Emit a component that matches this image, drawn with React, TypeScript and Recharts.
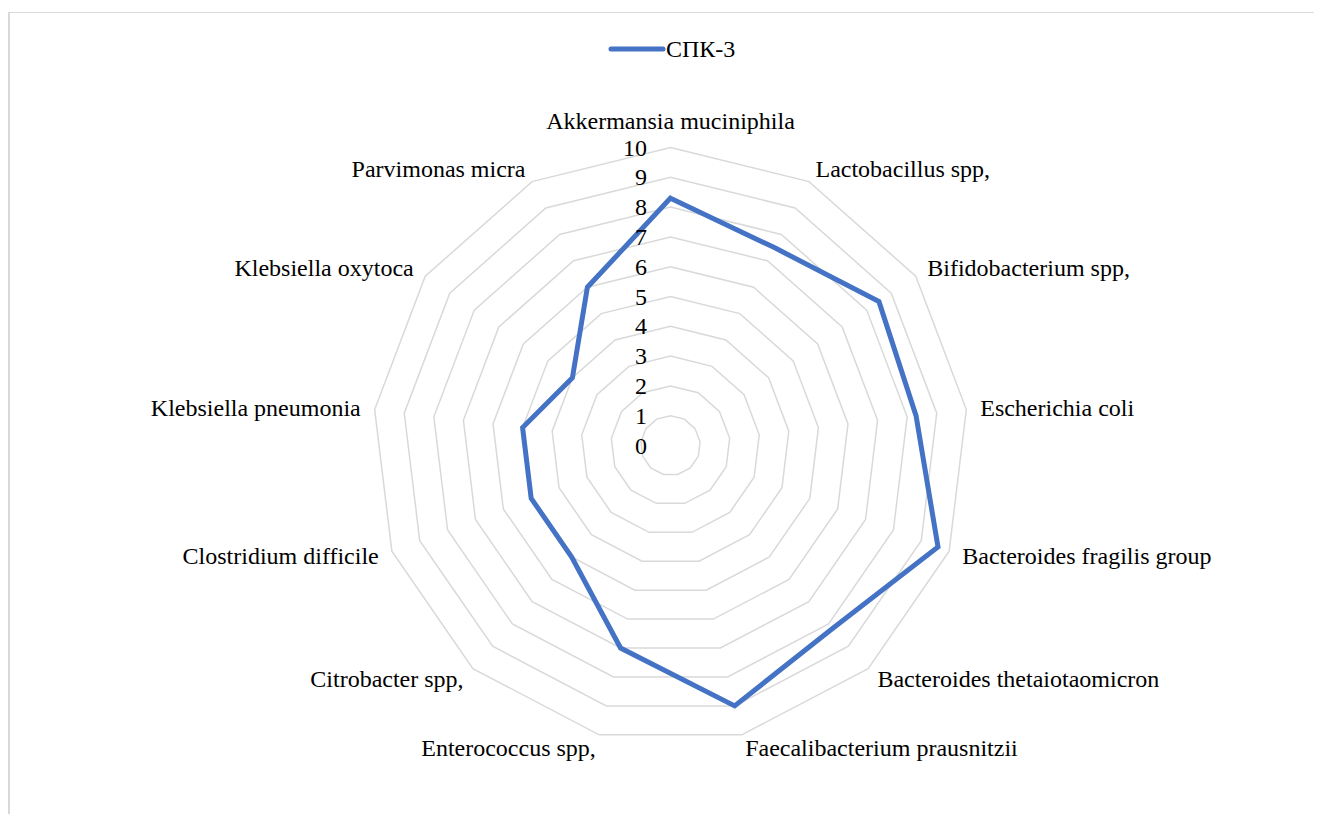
import { RadarChart, Radar, PolarGrid, PolarAngleAxis, PolarRadiusAxis, Legend } from "recharts";

const categories = [
  "Akkermansia muciniphila",
  "Lactobacillus spp,",
  "Bifidobacterium spp,",
  "Escherichia coli",
  "Bacteroides fragilis group",
  "Bacteroides thetaiotaomicron",
  "Faecalibacterium prausnitzii",
  "Enterococcus spp,",
  "Citrobacter spp,",
  "Clostridium difficile",
  "Klebsiella pneumonia",
  "Klebsiella oxytoca",
  "Parvimonas micra",
];
const spk3 = [8.3, 7.5, 8.5, 8.3, 9.6, 8.2, 9, 7, 5, 5, 5, 4, 6];
const radiusTicks = [0, 1, 2, 3, 4, 5, 6, 7, 8, 9, 10];
const seriesName = "СПК-3";

const data = categories.map((name, i) => ({ name, value: spk3[i] }));

const W = 1310;
const H = 800;
const CX = 660.5;
const CY = 432.5;
const R = 298;
const FONT = "Liberation Serif, Times New Roman, serif";
const BLUE = "#4472C4";

function AngleTick(props: any) {
  const { payload } = props;
  const rad = (payload.coordinate * Math.PI) / 180;
  const sx = Math.cos(rad);
  const sy = Math.sin(rad);
  const r = R + 14;
  const x = CX + r * sx;
  let y = CY - r * sy;
  let anchor: "start" | "end" | "middle" = "middle";
  if (sx > 0.05) anchor = "start";
  else if (sx < -0.05) anchor = "end";
  else y -= sy > 0 ? 13 : -13;
  return (
    <text x={x} y={y} textAnchor={anchor} dominantBaseline="central" fontSize={24} style={{ fontFamily: FONT }} fill="#000">
      {payload.value}
    </text>
  );
}

function RadiusTick(props: any) {
  const { x, y, payload } = props;
  return (
    <text x={x - 23.5} y={y} textAnchor="end" dominantBaseline="central" fontSize={24} style={{ fontFamily: FONT }} fill="#000">
      {payload.value}
    </text>
  );
}

function LegendBox() {
  return (
    <svg width={160} height={30}>
      <line x1={3} x2={55} y1={15} y2={15} stroke={BLUE} strokeWidth={5} strokeLinecap="round" />
      <text x={58} y={15} dominantBaseline="central" fontSize={24} style={{ fontFamily: FONT }} fill="#000">
        {seriesName}
      </text>
    </svg>
  );
}

export default function App() {
  return (
    <div
      style={{
        position: "relative",
        width: 1330,
        height: 820,
        marginTop: 4,
        borderTop: "1px solid #d9d9d9",
        borderLeft: "2px solid #d9d9d9",
        boxSizing: "border-box",
        background: "#fff",
      }}
    >
      <style>{"html,body{overflow:hidden}"}</style>
      <RadarChart width={W} height={H} data={data} cx={CX} cy={CY} outerRadius={R} startAngle={90} endAngle={-270}>
        <PolarGrid gridType="polygon" radialLines={false} stroke="#d9d9d9" strokeWidth={1.5} />
        <PolarAngleAxis dataKey="name" tick={AngleTick} axisLine={false} tickLine={false} />
        <PolarRadiusAxis
          angle={90}
          domain={[0, 10]}
          ticks={radiusTicks}
          tickCount={11}
          tick={RadiusTick}
          axisLine={false}
          tickLine={false}
        />
        <Radar
          name={seriesName}
          dataKey="value"
          stroke={BLUE}
          strokeWidth={5}
          fill="none"
          fillOpacity={0}
          dot={false}
          isAnimationActive={false}
        />
        <Legend content={LegendBox} wrapperStyle={{ top: 21, left: 598, width: 160, height: 30 }} />
      </RadarChart>
    </div>
  );
}
